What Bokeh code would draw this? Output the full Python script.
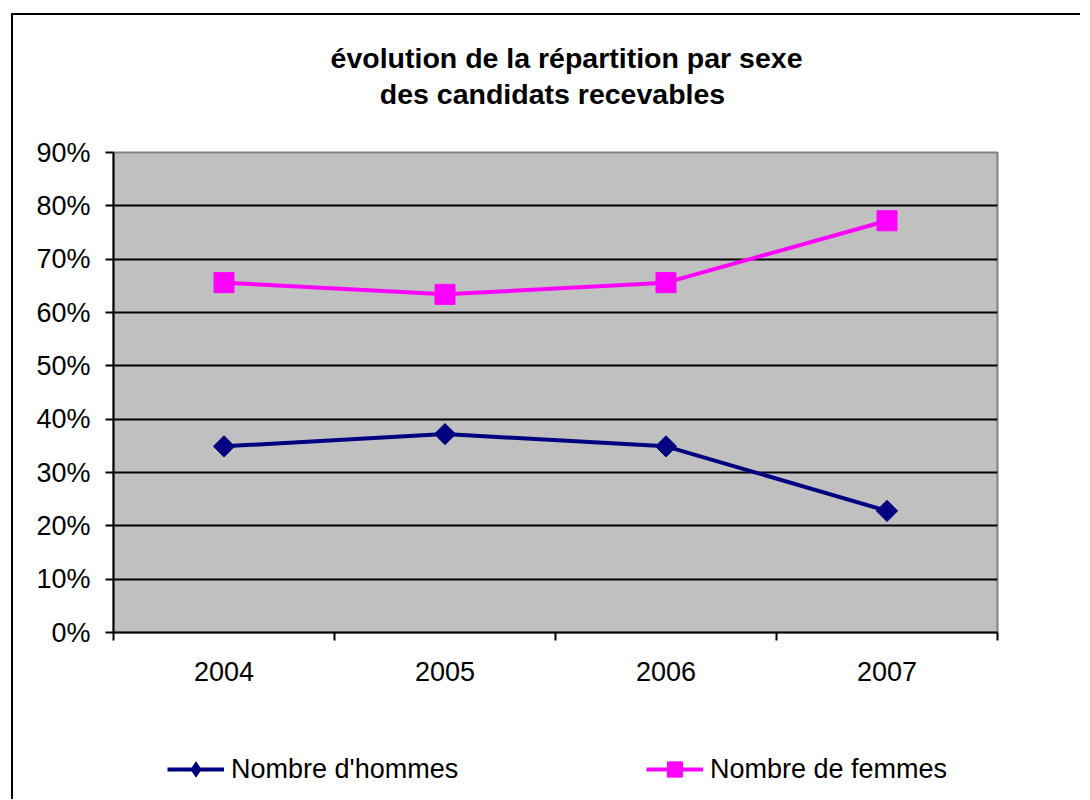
from math import pi
from bokeh.plotting import figure
from bokeh.layouts import column
from bokeh.models import (Range1d, FixedTicker, PrintfTickFormatter, Label,
                          Legend, LegendItem, ColumnDataSource)
from bokeh.embed import file_html
from bokeh.resources import INLINE

# ---- data ----
years = ["2004", "2005", "2006", "2007"]
hommes = [34.9, 37.2, 34.9, 22.8]   # % Nombre d'hommes
femmes = [65.6, 63.4, 65.6, 77.2]   # % Nombre de femmes
y_ticks = [0, 10, 20, 30, 40, 50, 60, 70, 80, 90]
title_lines = ["évolution de la répartition par  sexe", "des candidats recevables"]
series_names = ["Nombre d'hommes", "Nombre de femmes"]

FONT = "Liberation Sans"
C_H = "#000080"
C_F = "#FF00FF"
W = 1067
FRAME_W = 884          # frames are aligned by the column layout
BL, BR = 100, 83       # left / right borders of every block

xpos = [i + 0.5 for i in range(len(years))]
src = ColumnDataSource(dict(x=xpos, h=hommes, f=femmes))


def bare(height):
    f = figure(width=W, height=height, output_backend="svg", toolbar_location=None,
               x_axis_type=None, y_axis_type=None,
               min_border_left=BL, min_border_right=BR,
               min_border_top=0, min_border_bottom=0,
               x_range=Range1d(0, FRAME_W), y_range=Range1d(0, height))
    f.outline_line_color = None
    f.background_fill_color = "white"
    f.border_fill_color = "white"
    f.grid.visible = False
    return f


# ---- title block ----
t = bare(100)
t.add_layout(Label(x=457, y=58, text=title_lines[0], text_align="center",
                   text_baseline="middle", text_font=FONT, text_font_size="28.5px",
                   text_font_style="bold", text_color="black"))
t.add_layout(Label(x=439, y=22, text=title_lines[1], text_align="center",
                   text_baseline="middle", text_font=FONT, text_font_size="28.5px",
                   text_font_style="bold", text_color="black"))

# ---- main chart ----
p = figure(width=W, height=625, output_backend="svg", toolbar_location=None,
           x_range=Range1d(0, len(years)), y_range=Range1d(0, 90),
           min_border_left=BL, min_border_right=BR, min_border_top=37,
           min_border_bottom=108)
p.background_fill_color = "#C0C0C0"
p.border_fill_color = "white"
p.outline_line_color = "#808080"
p.outline_line_width = 2

p.xgrid.visible = False
p.ygrid.ticker = FixedTicker(ticks=y_ticks[1:-1])
p.ygrid.grid_line_color = "black"
p.ygrid.grid_line_width = 2

ya = p.yaxis[0]
ya.ticker = FixedTicker(ticks=y_ticks)
ya.formatter = PrintfTickFormatter(format="%d%%")
ya.axis_line_color = "black"
ya.axis_line_width = 2
ya.major_tick_in = 0
ya.major_tick_out = 8
ya.major_tick_line_width = 2
ya.minor_tick_line_color = None
ya.major_label_text_font = FONT
ya.major_label_text_font_size = "27px"
ya.major_label_text_color = "black"
ya.major_label_standoff = 15

xa = p.xaxis[0]
xa.ticker = FixedTicker(ticks=xpos, minor_ticks=list(range(len(years) + 1)))
xa.major_label_overrides = {x: y for x, y in zip(xpos, years)}
xa.axis_line_color = "black"
xa.axis_line_width = 2
xa.major_tick_in = 0
xa.major_tick_out = 0
xa.major_tick_line_color = None
xa.minor_tick_in = 0
xa.minor_tick_out = 8
xa.minor_tick_line_color = "black"
xa.minor_tick_line_width = 2
xa.major_label_text_font = FONT
xa.major_label_text_font_size = "27px"
xa.major_label_text_color = "black"
xa.major_label_standoff = 21

p.line("x", "h", source=src, line_color=C_H, line_width=4)
p.scatter("x", "h", source=src, marker="square", angle=pi / 4, size=15,
          fill_color=C_H, line_color=C_H)
p.line("x", "f", source=src, line_color=C_F, line_width=4)
p.scatter("x", "f", source=src, marker="square", size=20,
          fill_color=C_F, line_color=C_F)

# ---- legend block (same series styles, drawn outside its visible range) ----
lg = bare(59)
lg.x_range = Range1d(-10, -9)
lh = lg.line("x", "h", source=src, line_color=C_H, line_width=4)
mh = lg.scatter("x", "h", source=src, marker="diamond", size=15,
                fill_color=C_H, line_color=C_H)
lf = lg.line("x", "f", source=src, line_color=C_F, line_width=4)
mf = lg.scatter("x", "f", source=src, marker="square", size=20,
                fill_color=C_F, line_color=C_F)
legend = Legend(items=[LegendItem(label=series_names[0], renderers=[lh, mh]),
                       LegendItem(label=series_names[1], renderers=[lf, mf])],
                orientation="horizontal", location=(54, 11),
                glyph_width=57, glyph_height=38, label_standoff=7,
                label_width=415, spacing=0, padding=0, margin=0,
                border_line_color=None, background_fill_alpha=0,
                label_text_font=FONT, label_text_font_size="27px",
                label_text_color="black")
lg.add_layout(legend, "center")

page = column(t, p, lg, spacing=0)
page.styles = {"border-left": "2px solid black", "border-top": "2px solid black",
               "margin-left": "11px", "margin-top": "13px"}

open("out.html", "w").write(file_html(page, INLINE))
